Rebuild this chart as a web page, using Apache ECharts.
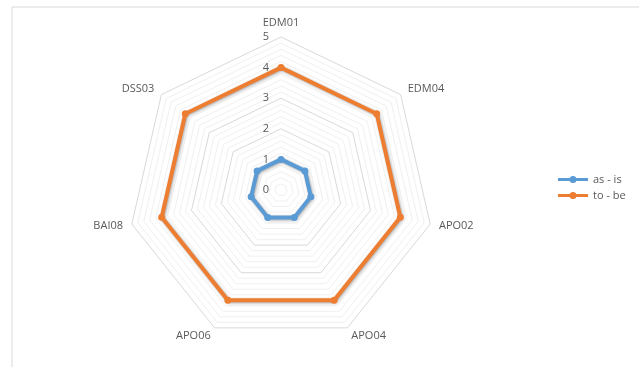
<!DOCTYPE html>
<html>
<head>
<meta charset="utf-8">
<script src="https://cdn.jsdelivr.net/npm/echarts@6/dist/echarts.min.js"></script>
<style>html,body{margin:0;padding:0;background:#fff;}#c{width:639px;height:367px;}</style>
</head>
<body>
<div id="c"></div>
<script>
// Categories listed clockwise from the top, as in the reference
var indicators = ['EDM01', 'EDM04', 'APO02', 'APO04', 'APO06', 'BAI08', 'DSS03'];
var asIs = [1, 1, 1, 1, 1, 1, 1];
var toBe = [4, 4, 4, 4, 4, 4, 4];
var seriesNames = ['as - is', 'to - be'];
var axisTicks = [0, 1, 2, 3, 4, 5];
var axisMax = 5;

// ECharts radar runs counter-clockwise; reorder so the drawing goes clockwise
function cw(arr) {
  var out = [arr[0]];
  for (var i = arr.length - 1; i >= 1; i--) out.push(arr[i]);
  return out;
}

var chart = echarts.init(document.getElementById('c'));
var font = '"Open Sans", "Noto Sans", sans-serif';
var legendIcon = 'path://M0,2.5 L30,2.5 L30,5.5 L0,5.5 Z M15,0.5 A3.5,3.5 0 1,1 15,7.5 A3.5,3.5 0 1,1 15,0.5 Z';
chart.setOption({
  backgroundColor: '#ffffff',
  animation: false,
  legend: {
    orient: 'vertical',
    left: 553,
    top: 169,
    itemWidth: 30,
    itemHeight: 8,
    itemGap: 5,
    textStyle: { fontFamily: font, fontSize: 11, color: '#595959' },
    data: seriesNames.map(function (n) { return { name: n, icon: legendIcon }; })
  },
  radar: {
    center: [281, 190],
    radius: 153,
    startAngle: 90,
    splitNumber: 25,
    shape: 'polygon',
    nameGap: 9,
    axisName: { fontFamily: font, fontSize: 11, color: '#595959' },
    indicator: cw(indicators).map(function (n) { return { name: n, min: 0, max: axisMax }; }),
    axisLine: { show: false },
    axisTick: { show: false },
    axisLabel: { show: false },
    splitLine: {
      lineStyle: {
        color: ['#d9d9d9', '#f0f0f0', '#f0f0f0', '#f0f0f0', '#f0f0f0'],
        width: 1
      }
    },
    splitArea: { show: false }
  },
  series: [{
    type: 'radar',
    symbol: 'circle',
    symbolSize: 7,
    data: [
      {
        name: seriesNames[0], value: cw(asIs),
        itemStyle: { color: '#5B9BD5' },
        lineStyle: { color: '#5B9BD5', width: 4, shadowColor: 'rgba(0,0,0,0.35)', shadowBlur: 3, shadowOffsetX: 1, shadowOffsetY: 1 }
      },
      {
        name: seriesNames[1], value: cw(toBe),
        itemStyle: { color: '#ED7D31' },
        lineStyle: { color: '#ED7D31', width: 4, shadowColor: 'rgba(0,0,0,0.35)', shadowBlur: 3, shadowOffsetX: 1, shadowOffsetY: 1 }
      }
    ]
  }]
});

// axis value labels along the top axis, positioned via the radar coordinate system
var coordSys = chart.getModel().getComponent('radar').coordinateSystem;
var g = axisTicks.map(function (v) {
  var p = coordSys.dataToPoint(v, 0);
  return { type: 'text', x: p[0] - 15, y: p[1], style: { text: String(v), fontFamily: font, fontSize: 11, fill: '#595959', textAlign: 'center', textVerticalAlign: 'middle' } };
});
g.unshift({ type: 'polyline', shape: { points: [[12, 367], [12, 7], [639, 7]] }, style: { stroke: '#d9d9d9', lineWidth: 1, fill: null } });
chart.setOption({ graphic: g });
</script>
</body>
</html>
